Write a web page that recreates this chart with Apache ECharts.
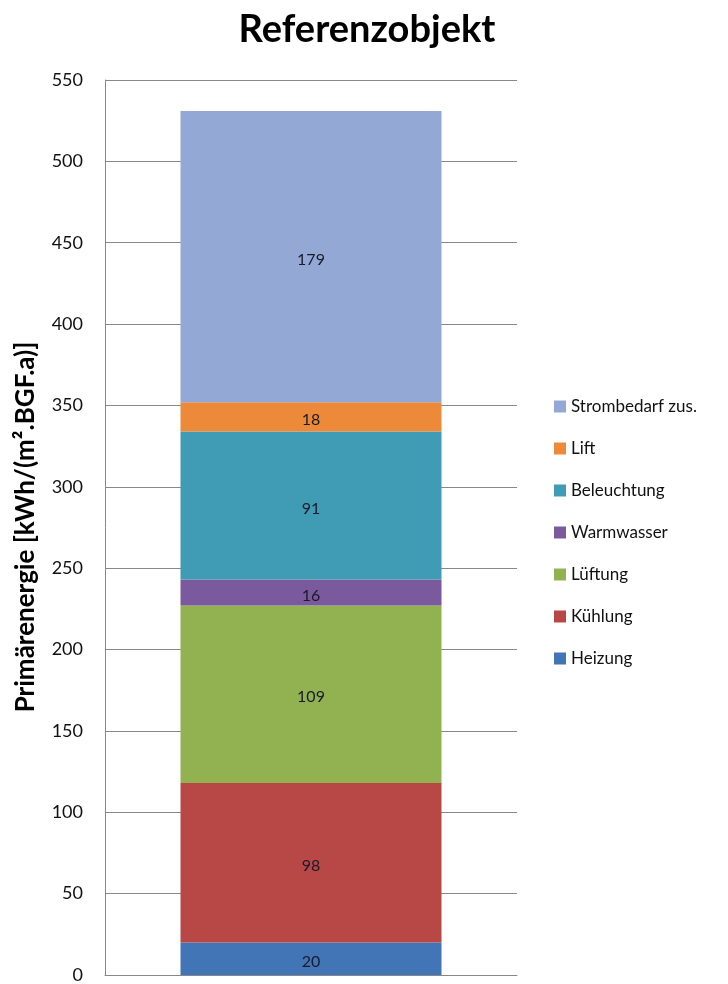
<!DOCTYPE html>
<html><head><meta charset="utf-8">
<script src="https://cdn.jsdelivr.net/npm/echarts@6/dist/echarts.min.js"></script>
<style>html,body{margin:0;padding:0;background:#fff}#c{width:728px;height:984px}</style>
</head><body><div id="c"></div>
<script>
const categories = ['Referenzobjekt'];
const seriesNames = ['Heizung','Kühlung','Lüftung','Warmwasser','Beleuchtung','Lift','Strombedarf zus.'];
const heizung = [20];
const kuehlung = [98];
const lueftung = [109];
const warmwasser = [16];
const beleuchtung = [91];
const lift = [18];
const strombedarf = [179];
const seriesValues = [heizung, kuehlung, lueftung, warmwasser, beleuchtung, lift, strombedarf];
const yTicks = {min: 0, max: 550, interval: 50};
const colors = ['#4275B5','#B84845','#92B251','#7A5A9C','#3F9CB4','#EC8A3A','#94A8D6'];
const font = 'Lato';
const chart = echarts.init(document.getElementById('c'), null, {renderer:'canvas'});
chart.setOption({
  animation: false,
  textStyle: {fontFamily: font},
  graphic: [
    {type: 'text', x: 367, y: 30,
      style: {text: 'Referenzobjekt', font: 'bold 38px ' + font, fill: '#000',
        textAlign: 'center', textVerticalAlign: 'middle'}},
    {type: 'text', x: 26, y: 527, rotation: Math.PI/2,
      style: {text: 'Primärenergie [kWh/(m².BGF.a)]', font: 'bold 26px ' + font, fill: '#000',
        textAlign: 'center', textVerticalAlign: 'middle'}}
  ],
  grid: {left: 105, right: 211, top: 80, bottom: 6, containLabel: false},
  legend: {
    orient: 'vertical', left: 549, top: 393, itemGap: 25, itemWidth: 12, itemHeight: 12,
    icon: 'rect', data: seriesNames.slice().reverse(),
    textStyle: {fontFamily: font, fontSize: 17, color: '#111'}
  },
  xAxis: {type: 'category', data: categories, axisLabel: {show: false}, axisTick: {show: false},
    axisLine: {lineStyle: {color: '#888'}}},
  yAxis: {type: 'value', min: yTicks.min, max: yTicks.max, interval: yTicks.interval,
    axisLine: {show: true, lineStyle: {color: '#888'}}, axisTick: {show: false},
    axisLabel: {fontFamily: font, fontSize: 18, color: '#111', margin: 22},
    splitLine: {lineStyle: {color: '#888', width: 1}}},
  series: seriesNames.map((n, i) => ({
    name: n, type: 'bar', stack: 'total', data: seriesValues[i], barWidth: 261,
    itemStyle: {color: colors[i]},
    label: {show: true, position: 'inside', offset: [0, 3], fontFamily: font, fontSize: 16, color: '#1a1a2a'}
  }))
});
</script></body></html>
